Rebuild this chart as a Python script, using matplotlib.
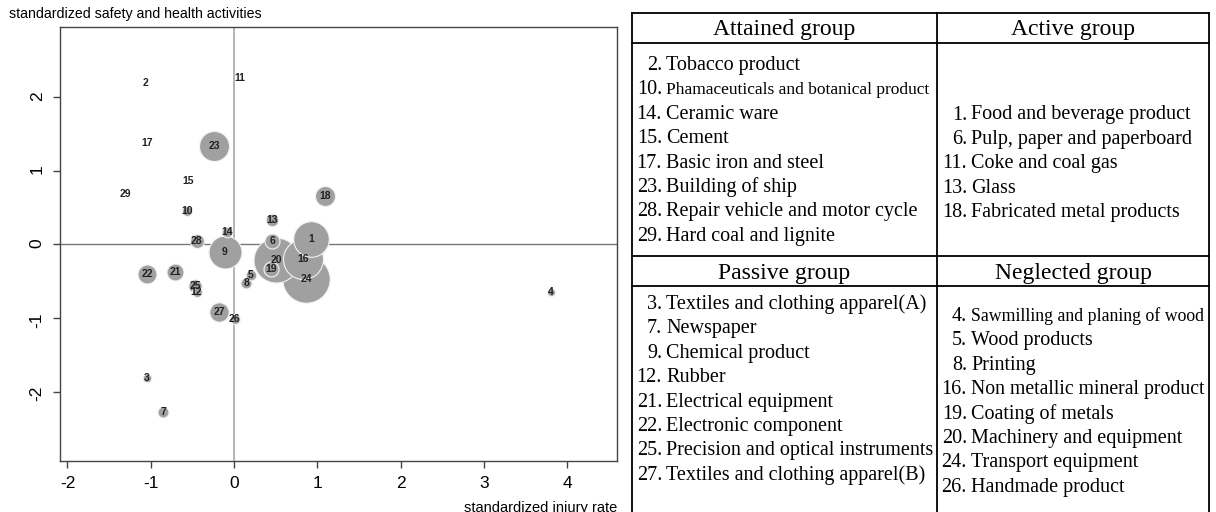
import matplotlib
matplotlib.use('Agg')
import matplotlib.pyplot as plt

plt.rcParams['font.family'] = ['Liberation Sans', 'DejaVu Sans']
plt.rcParams['axes.unicode_minus'] = False

# industry number, standardized injury rate (x), safety & health activities (y), bubble size
industry = list(range(1, 30))
injury_rate = [0.93, -1.06, -1.05, 3.81, 0.20, 0.46, -0.85, 0.15, -0.11, -0.56,
               0.07, -0.45, 0.46, -0.08, -0.55, 0.83, -1.04, 1.09, 0.44, 0.51,
               -0.71, -1.04, -0.24, 0.87, -0.47, 0.01, -0.18, -0.45, -1.31]
safety_act = [0.07, 2.19, -1.82, -0.65, -0.41, 0.04, -2.27, -0.52, -0.11, 0.45,
              2.26, -0.65, 0.33, 0.17, 0.86, -0.20, 1.38, 0.65, -0.34, -0.21,
              -0.37, -0.40, 1.33, -0.47, -0.57, -1.01, -0.92, 0.05, 0.68]
bubble_size = [17.8, 0, 4.3, 4.0, 5.3, 7.5, 5.5, 5.5, 16.5, 5.0,
               0, 5.0, 6.3, 5.3, 0, 20.0, 0, 10.0, 7.5, 22.5,
               8.5, 9.5, 15.0, 23.7, 6.7, 5.0, 9.7, 7.0, 0]

group_titles = ['Attained group', 'Active group', 'Passive group', 'Neglected group']
attained = [(2, 'Tobacco product'), (10, 'Phamaceuticals and botanical product'),
            (14, 'Ceramic ware'), (15, 'Cement'), (17, 'Basic iron and steel'),
            (23, 'Building of ship'), (28, 'Repair vehicle and motor cycle'),
            (29, 'Hard coal and lignite')]
active = [(1, 'Food and beverage product'), (6, 'Pulp, paper and paperboard'),
          (11, 'Coke and coal gas'), (13, 'Glass'), (18, 'Fabricated metal products')]
passive = [(3, 'Textiles and clothing apparel(A)'), (7, 'Newspaper'),
           (9, 'Chemical product'), (12, 'Rubber'), (21, 'Electrical equipment'),
           (22, 'Electronic component'), (25, 'Precision and optical instruments'),
           (27, 'Textiles and clothing apparel(B)')]
neglected = [(4, 'Sawmilling and planing of wood'), (5, 'Wood products'), (8, 'Printing'),
             (16, 'Non metallic mineral product'), (19, 'Coating of metals'),
             (20, 'Machinery and equipment'), (24, 'Transport equipment'),
             (26, 'Handmade product')]

W, H = 1216, 512
fig = plt.figure(figsize=(W / 100, H / 100), dpi=100)

# ---- bubble plot ----
ax = fig.add_axes([60 / W, 1 - 461 / H, (617 - 60) / W, (461 - 27) / H])
ax.set_xlim(-2.09, 4.60)
ax.set_ylim(-2.94, 2.95)
ax.axvline(0, color='#a8a8a8', lw=1.2, zorder=1)
ax.axhline(0, color='#777777', lw=1.0, zorder=1)

# biggest bubbles first, like R symbols()
order = sorted(range(len(industry)), key=lambda i: -bubble_size[i])
for k, i in enumerate(order):
    if bubble_size[i] > 0:
        d = 2 * bubble_size[i] * 0.72
        ax.scatter(injury_rate[i], safety_act[i], s=d ** 2, color='#a0a0a0',
                   edgecolors='#f2f2f2', linewidths=0.8, zorder=2 + k * 0.01)
for i in range(len(industry)):
    ax.text(injury_rate[i], safety_act[i], str(industry[i]), ha='center', va='center',
            fontsize=7.5, fontweight='bold', color='#222222', zorder=5)

ax.set_xticks([-2, -1, 0, 1, 2, 3, 4])
ax.set_yticks([-2, -1, 0, 1, 2])
ax.tick_params(axis='both', length=5, width=1, color='#444444', labelsize=12.5, pad=6)
ax.tick_params(axis='y', labelrotation=90)
for s in ax.spines.values():
    s.set_color('#444444')
    s.set_linewidth(1.0)

fig.text(9 / W, 1 - 14 / H, 'standardized safety and health activities',
         ha='left', va='center', fontsize=10.2)
fig.text(617 / W, 1 - 501 / H, 'standardized injury rate',
         ha='right', va='top', fontsize=10.5)

# ---- group table ----
tab = fig.add_axes([0, 0, 1, 1])
tab.set_xlim(0, W)
tab.set_ylim(H, 0)
tab.axis('off')

L, M, R = 632, 937, 1209
for yy in [13, 43, 256, 286]:
    tab.plot([L, R], [yy, yy], color='black', lw=1.3)
for xx in [L, M, R]:
    tab.plot([xx, xx], [13, H], color='black', lw=1.3)

serif = ['Liberation Serif', 'DejaVu Serif']
header_y = [30, 30, 273, 273]
header_x = [(L + M) / 2, (M + R) / 2, (L + M) / 2, (M + R) / 2]
for t, hx, hy in zip(group_titles, header_x, header_y):
    tab.text(hx, hy, t, ha='center', va='center', fontsize=17, family=serif)

renderer = fig.canvas.get_renderer()
blocks = [(attained, L, M, 65.5), (active, M, R, 115), (passive, L, M, 304.5), (neglected, M, R, 316.5)]
for items, x0, x1, y0 in blocks:
    for j, (num, name) in enumerate(items):
        yy = y0 + j * 24.4
        tab.text(x0 + 30, yy, f'{num}.', ha='right', va='center', fontsize=14.5, family=serif)
        t = tab.text(x0 + 34, yy, name, ha='left', va='center', fontsize=14.5, family=serif)
        fs = 14.5
        while t.get_window_extent(renderer).x1 > x1 - 3 and fs > 8:
            fs -= 0.25
            t.set_fontsize(fs)

fig.savefig('out.png', dpi=100)
